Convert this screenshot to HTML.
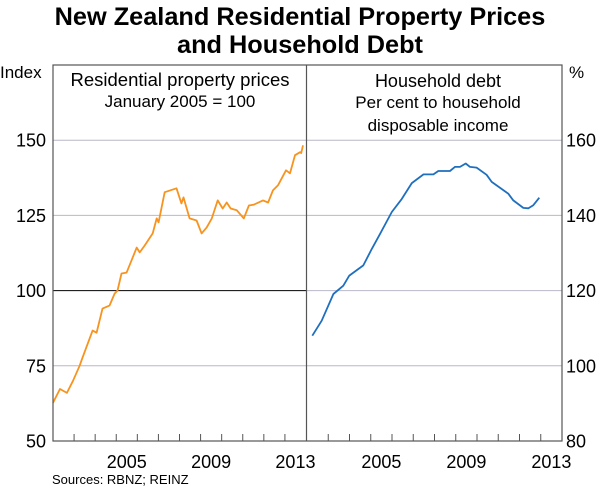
<!DOCTYPE html>
<html><head><meta charset="utf-8"><style>
html,body{margin:0;padding:0;background:#fff;}
svg{display:block;font-family:"Liberation Sans",Arial,sans-serif;}
</style></head><body>
<svg id="chart" width="600" height="488" viewBox="0 0 600 488" xmlns="http://www.w3.org/2000/svg">
<text x="300" y="25" text-anchor="middle" font-size="25.3" font-weight="bold" fill="#000">New Zealand Residential Property Prices</text>
<text x="300" y="53" text-anchor="middle" font-size="25.3" font-weight="bold" fill="#000">and Household Debt</text>
<text x="0" y="78" font-size="17" fill="#000">Index</text>
<text x="569" y="78" font-size="17" fill="#000">%</text>
<text x="180" y="86" text-anchor="middle" font-size="18.5" fill="#000">Residential property prices</text>
<text x="180" y="107" text-anchor="middle" font-size="17" fill="#000">January 2005 = 100</text>
<text x="438" y="87" text-anchor="middle" font-size="18" fill="#000">Household debt</text>
<text x="438" y="108" text-anchor="middle" font-size="17" fill="#000">Per cent to household</text>
<text x="438" y="131" text-anchor="middle" font-size="17" fill="#000">disposable income</text>
<text x="52" y="484" font-size="13" fill="#000">Sources: RBNZ; REINZ</text>
<g id="grid"></g>
<g id="marks"></g>
<g id="frame"></g>
</svg>
<script>
// Left panel: residential property prices (index)
const priceYears = [2002.0,2002.33,2002.66,2002.95,2003.26,2003.4,2003.88,2004.07,2004.35,2004.68,2004.92,2005.06,2005.25,2005.49,2005.97,2006.11,2006.35,2006.73,2006.92,2007.01,2007.3,2007.86,2008.09,2008.19,2008.48,2008.81,2009.05,2009.29,2009.53,2009.81,2010.05,2010.24,2010.43,2010.72,2011.05,2011.29,2011.53,2011.96,2012.2,2012.43,2012.67,2013.05,2013.24,2013.48,2013.72,2013.77,2013.86];
const priceValues = [62.7,67.3,66,70,75,77.7,86.7,86,94,95,99,100,105.7,106,114.3,112.7,115,119,124,122.7,132.7,134,129,131,124,123.3,119,121,124,130,127.3,129.3,127.3,126.7,124,128.3,128.6,130,129.3,133.3,135,140,139,145,146,145.7,148.3];
// Right panel: household debt (% of disposable income)
const debtYears = [2002.25,2002.69,2003.24,2003.71,2003.99,2004.65,2005.05,2005.44,2005.99,2006.46,2006.93,2007.48,2007.95,2008.18,2008.73,2008.96,2009.2,2009.47,2009.67,2009.98,2010.45,2010.69,2011.47,2011.71,2012.18,2012.42,2012.65,2012.93];
const debtValues = [108,112,119.1,121.3,124,126.7,131.1,135.1,140.9,144.4,148.6,150.9,150.9,151.8,151.8,152.9,152.9,153.8,152.9,152.7,150.8,148.9,145.8,144,142,141.9,142.7,144.7];
const leftTicks = [50,75,100,125,150];
const rightTicks = [80,100,120,140,160];
const yearLabels = [2005,2009,2013];

const NS = "http://www.w3.org/2000/svg";
const plotTop = 65, plotBottom = 441;
const L = {x0:53, x1:306, y0:50, y1:175};
const R = {x0:307, x1:562, y0:80, y1:180};
const X0 = 2002, X1 = 2014;
function xL(t){return L.x0 + (t-X0)/(X1-X0)*(L.x1-L.x0);}
function xR(t){return R.x0 + (t-X0)/(X1-X0)*(R.x1-R.x0);}
function yL(v){return plotBottom - (v-L.y0)/(L.y1-L.y0)*(plotBottom-plotTop);}
function yR(v){return plotBottom - (v-R.y0)/(R.y1-R.y0)*(plotBottom-plotTop);}
function mk(tag, attrs, parent){const e=document.createElementNS(NS,tag);for(const k in attrs)e.setAttribute(k,attrs[k]);parent.appendChild(e);return e;}
const gridG=document.getElementById('grid'), marksG=document.getElementById('marks'), frameG=document.getElementById('frame');

leftTicks.forEach(v=>{
  const y=yL(v);
  if(v!==50){
    const g=mk('line',{x1:L.x0,x2:L.x1,y1:y,y2:y,stroke:v===100?'#000':'#b8b8c8','stroke-width':1},gridG);
    
    
  }
  const t=mk('text',{x:L.x0-7,y:y+6.5,'text-anchor':'end','font-size':18,fill:'#000'},frameG);
  t.textContent=v;
  
  
});
rightTicks.forEach(v=>{
  const y=yR(v);
  if(v!==80){
    const g=mk('line',{x1:R.x0,x2:R.x1,y1:y,y2:y,stroke:'#b8b8c8','stroke-width':1},gridG);
    
    
  }
  const t=mk('text',{x:R.x1+4,y:y+6.5,'font-size':18,fill:'#000'},frameG);
  t.textContent=v;
  
  
});

function pathD(xs,ys,fx,fy){return xs.map((t,i)=>(i?'L':'M')+fx(t).toFixed(1)+','+fy(ys[i]).toFixed(1)).join('');}
const p1=mk('path',{d:pathD(priceYears,priceValues,xL,yL),fill:'none',stroke:'#f7931e','stroke-width':1.8,'stroke-linejoin':'round'},marksG);


const p2=mk('path',{d:pathD(debtYears,debtValues,xR,yR),fill:'none',stroke:'#1f6fbf','stroke-width':1.8,'stroke-linejoin':'round'},marksG);



const fr=mk('rect',{x:L.x0,y:plotTop,width:R.x1-L.x0,height:plotBottom-plotTop,fill:'none',stroke:'#555','stroke-width':1.2},frameG);


const dv=mk('line',{x1:306.5,x2:306.5,y1:plotTop,y2:plotBottom,stroke:'#555','stroke-width':1.2},frameG);



for(let yr=X0+1; yr<X1; yr++){
  [xL(yr),xR(yr)].forEach(x=>{
    const tk=mk('line',{x1:x,x2:x,y1:plotBottom,y2:plotBottom-7,stroke:'#555','stroke-width':1},frameG);
    
    
  });
}
yearLabels.forEach(yr=>{
  [xL(yr+0.5),xR(yr+0.5)].forEach(x=>{
    const t=mk('text',{x:x,y:468,'text-anchor':'middle','font-size':18,fill:'#000'},frameG);
    t.textContent=yr;
    
    
  });
});
</script>
</body></html>
